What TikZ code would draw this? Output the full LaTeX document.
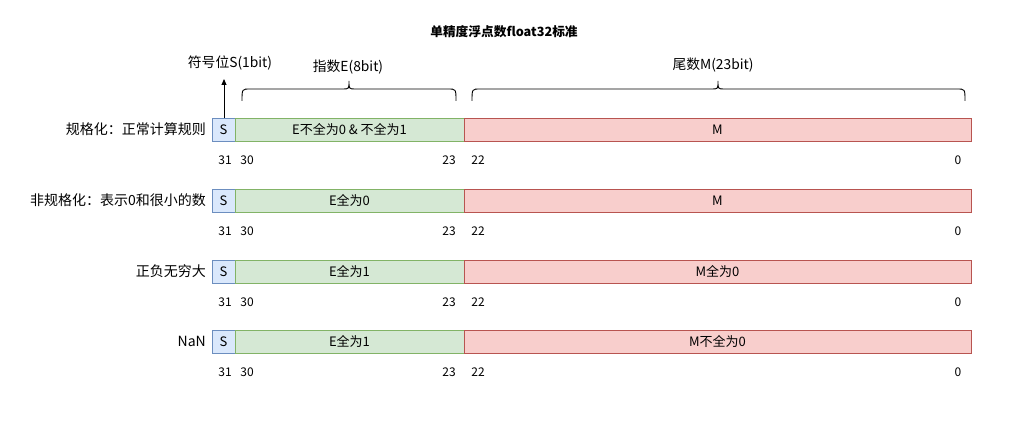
\documentclass[tikz,border=0pt]{standalone}
\usepackage{fontspec}
\setmainfont{Noto Sans CJK SC}
\usetikzlibrary{arrows.meta}
\definecolor{sfill}{HTML}{DAE8FC}\definecolor{sdraw}{HTML}{6C8EBF}
\definecolor{efill}{HTML}{D5E8D4}\definecolor{edraw}{HTML}{82B366}
\definecolor{mfill}{HTML}{F8CECC}\definecolor{mdraw}{HTML}{B85450}
\tikzset{
  fld/.style={draw, line width=0.9pt, minimum height=23pt, inner sep=0pt, outer sep=0pt, anchor=west, font=\fontsize{13}{15}\selectfont},
  sbox/.style={fld, fill=sfill, draw=sdraw, minimum width=23pt},
  ebox/.style={fld, fill=efill, draw=edraw, minimum width=229pt},
  mbox/.style={fld, fill=mfill, draw=mdraw, minimum width=507pt},
  rowlab/.style={anchor=east, inner sep=0pt, font=\fontsize{14}{16}\selectfont},
  bitlab/.style={inner sep=0pt, font=\fontsize{12}{14}\selectfont},
  toplab/.style={inner sep=0pt, font=\fontsize{13.8}{16}\selectfont},
  bracepath/.style={line width=0.9pt},
}
\begin{document}
\begin{tikzpicture}[x=1pt,y=-1pt]
\useasboundingbox (0,0) rectangle (1024,438);
\node[inner sep=0pt, font=\fontsize{12.7}{15}\selectfont\bfseries] (title) at (504,32) {单精度浮点数float32标准};
\foreach \i/\yc/\lab/\et/\mt in {1/129.5/规格化：正常计算规则/E不全为0 \& 不全为1/M,
                                 2/200.5/非规格化：表示0和很小的数/E全为0/M,
                                 3/271.5/正负无穷大/E全为1/M全为0,
                                 4/341.5/NaN/E全为1/M不全为0}{
  \node[sbox] (s\i) at (212,\yc) {S};
  \node[ebox] (e\i) at (s\i.east) {\et};
  \node[mbox] (m\i) at (e\i.east) {\mt};
  \node[rowlab] (l\i) at (206,\yc) {\lab};
  \node[bitlab] (b31\i) at (225,\yc+30.5) {31};
  \node[bitlab] (b30\i) at (247,\yc+30.5) {30};
  \node[bitlab] (b23\i) at (449,\yc+30.5) {23};
  \node[bitlab] (b22\i) at (478,\yc+30.5) {22};
  \node[bitlab] (b0\i) at (958,\yc+30.5) {0};
}
\node[toplab] (slab) at (230,63) {符号位S(1bit)};
\coordinate (sarrow) at (224,79);
\draw[line width=0.9pt, -{Triangle[length=6pt,width=5pt]}] (s1.north -| sarrow) -- (sarrow);
\node[toplab] (elab) at (348,67) {指数E(8bit)};
\node[toplab] (mlab) at (713,65) {尾数M(23bit)};
% braces
\draw[bracepath] (242,101) .. controls (242,89) .. (250,89) -- (343,89) .. controls (349,89) .. (349,81)
  .. controls (349,89) .. (355,89) -- (448,89) .. controls (456,89) .. (456,101);
\draw[bracepath] (472,101) .. controls (472,89) .. (480,89) -- (712,89) .. controls (718,89) .. (718,81)
  .. controls (718,89) .. (724,89) -- (957,89) .. controls (965,89) .. (965,101);
\end{tikzpicture}
\end{document}
